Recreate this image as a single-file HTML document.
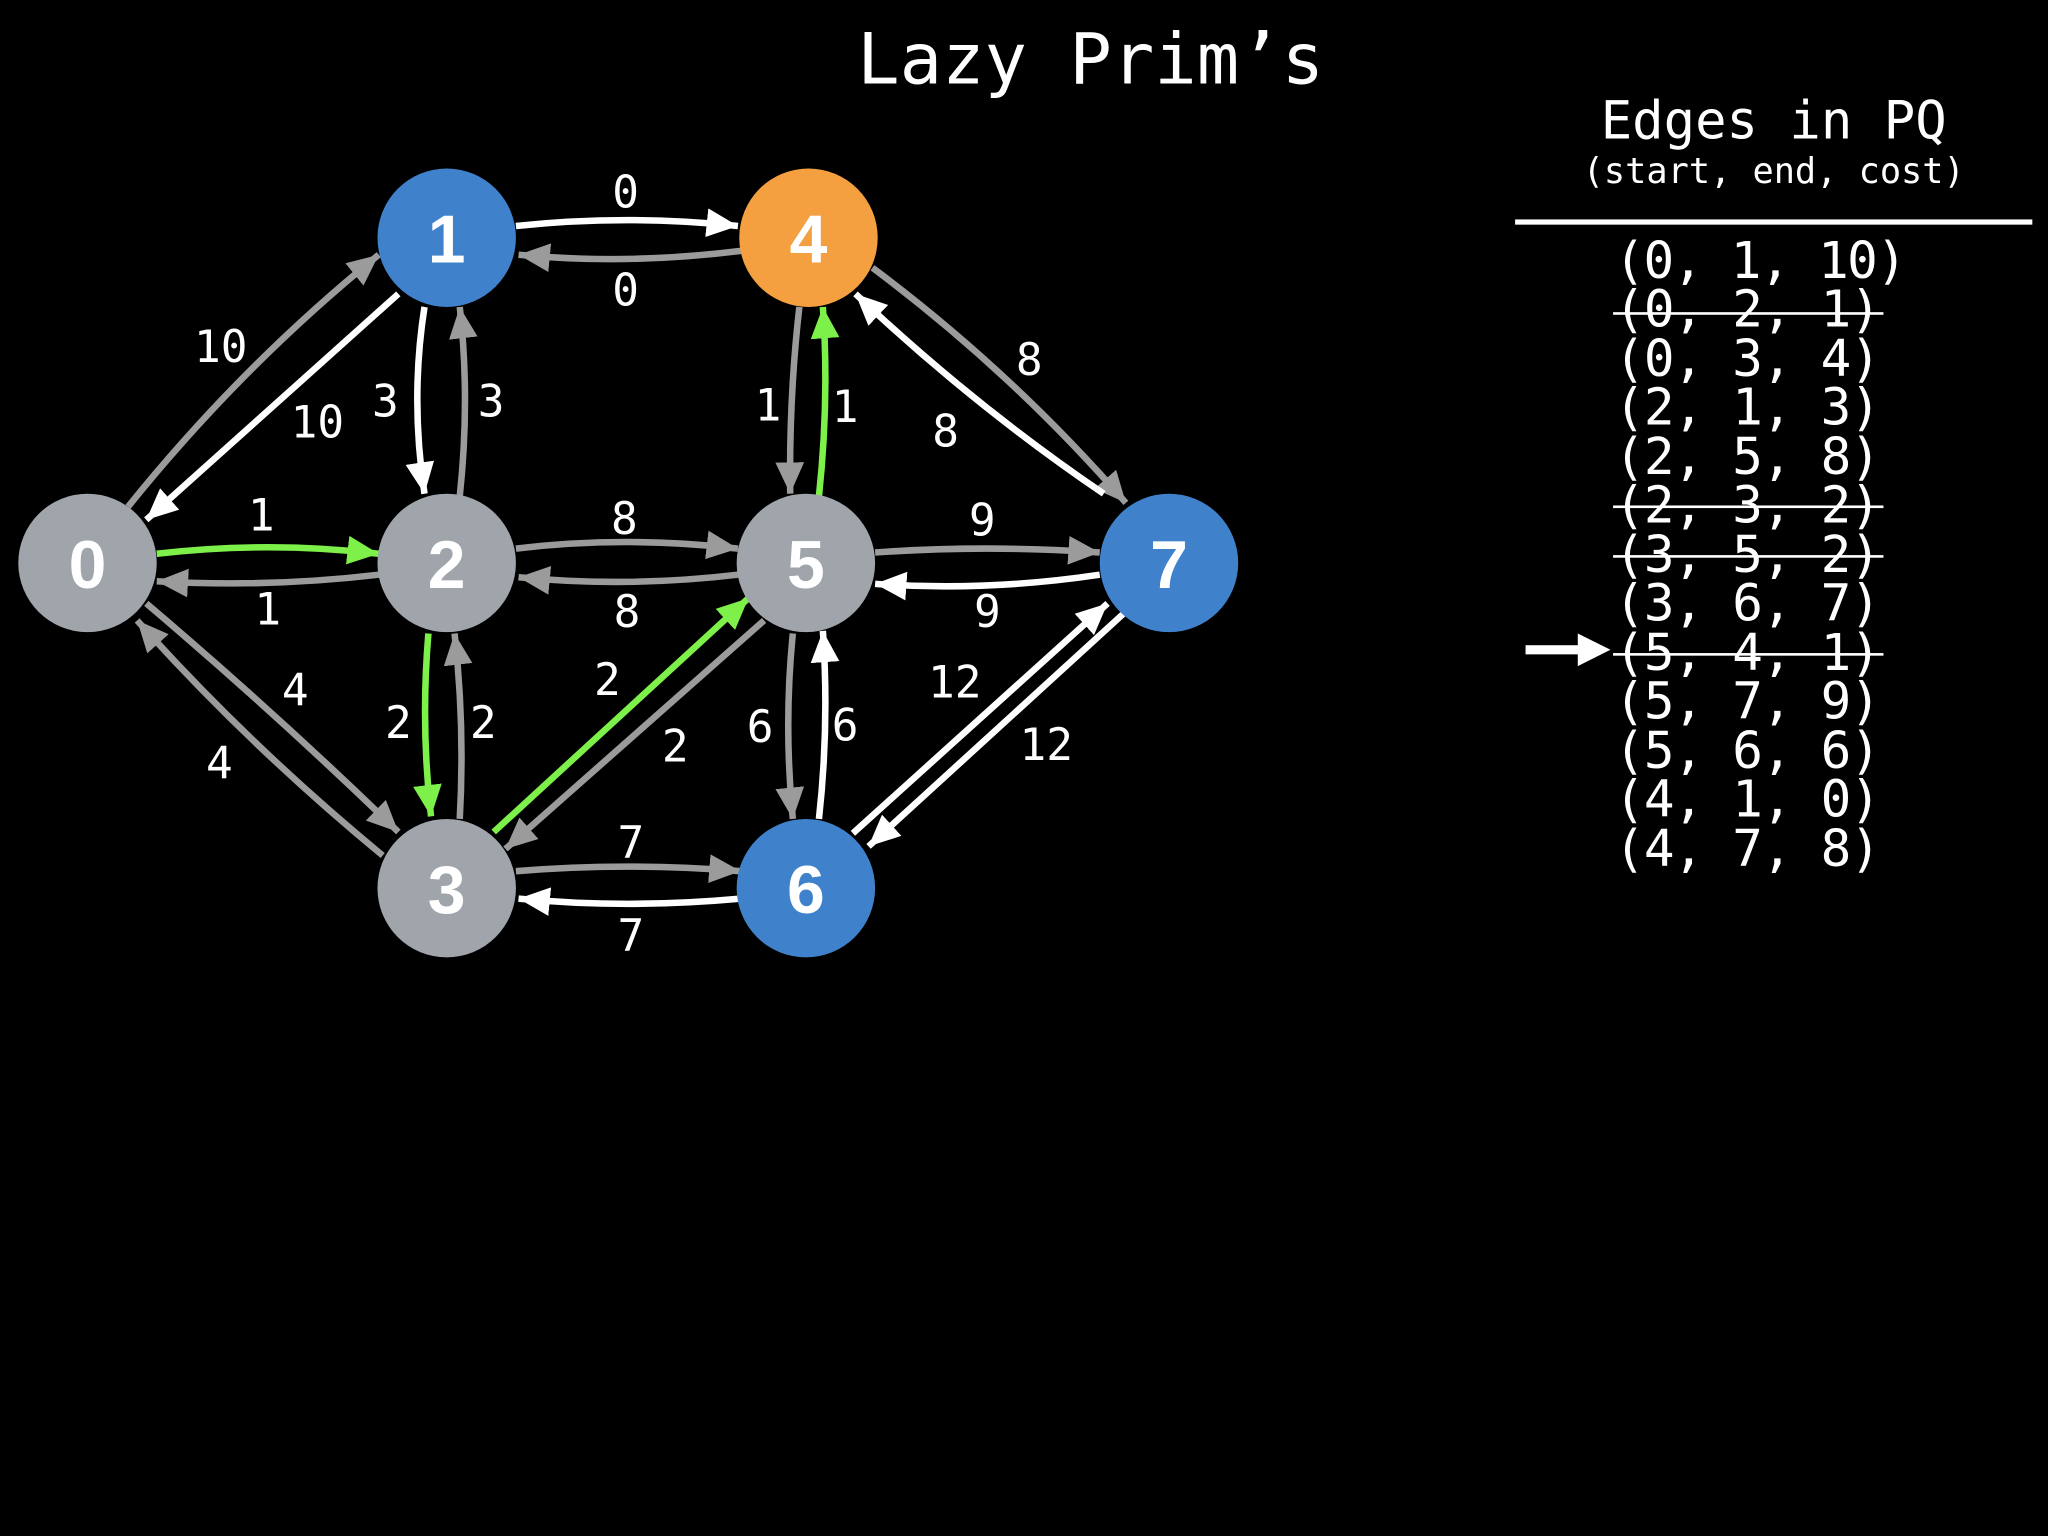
<!DOCTYPE html>
<html><head><meta charset="utf-8"><style>
html,body{margin:0;padding:0;background:#000;}
svg{display:block}
.m{font-family:"DejaVu Sans Mono","Liberation Mono",monospace;fill:#fff}
.n{font-family:"Liberation Sans",sans-serif;font-weight:bold;fill:#fff;font-size:52px;text-anchor:middle}
</style></head><body>
<svg width="2048" height="1536" viewBox="0 0 1568 1176" xmlns="http://www.w3.org/2000/svg">
<defs>
<marker id="aw" markerUnits="userSpaceOnUse" markerWidth="26" markerHeight="24" refX="24" refY="11" orient="auto"><path d="M0,0 L24,11 L0,22 z" fill="#fff"/></marker>
<marker id="ag" markerUnits="userSpaceOnUse" markerWidth="26" markerHeight="24" refX="24" refY="11" orient="auto"><path d="M0,0 L24,11 L0,22 z" fill="#9b9b9b"/></marker>
<marker id="an" markerUnits="userSpaceOnUse" markerWidth="26" markerHeight="24" refX="24" refY="11" orient="auto"><path d="M0,0 L24,11 L0,22 z" fill="#7ef04a"/></marker>
</defs>
<rect width="1568" height="1176" fill="#000"/>
<text class="m" x="835" y="64" font-size="54" text-anchor="middle">Lazy Prim’s</text>
<text class="m" x="1358" y="106" font-size="40" text-anchor="middle">Edges in PQ</text>
<text class="m" x="1358" y="140" font-size="27" text-anchor="middle">(start, end, cost)</text>
<rect x="1160" y="168" width="396" height="4" fill="#fff"/>
<g class="m" font-size="39">
<text x="1236" y="213" textLength="224">(0, 1, 10)</text>
<text x="1236" y="250" textLength="204">(0, 2, 1)</text>
<text x="1236" y="288" textLength="204">(0, 3, 4)</text>
<text x="1236" y="325" textLength="204">(2, 1, 3)</text>
<text x="1236" y="363" textLength="204">(2, 5, 8)</text>
<text x="1236" y="400" textLength="204">(2, 3, 2)</text>
<text x="1236" y="438" textLength="204">(3, 5, 2)</text>
<text x="1236" y="475" textLength="204">(3, 6, 7)</text>
<text x="1236" y="513" textLength="204">(5, 4, 1)</text>
<text x="1236" y="550" textLength="204">(5, 7, 9)</text>
<text x="1236" y="588" textLength="204">(5, 6, 6)</text>
<text x="1236" y="625" textLength="204">(4, 1, 0)</text>
<text x="1236" y="663" textLength="204">(4, 7, 8)</text>
</g>
<g fill="#fff">
<rect x="1235" y="239" width="207" height="2"/>
<rect x="1235" y="387" width="207" height="2"/>
<rect x="1235" y="425" width="207" height="2"/>
<rect x="1235" y="500" width="207" height="2"/>
<rect x="1168" y="494" width="44" height="7"/>
<path d="M1208,485 L1233,497.5 L1208,510 z"/>
</g>
<g fill="none" stroke-width="5">
<path d="M395,173 Q480,164 565,173" stroke="#fff" marker-end="url(#aw)"/>
<path d="M568,192 Q480,203 397,195" stroke="#9b9b9b" marker-end="url(#ag)"/>
<path d="M98,388 Q185,280 290,195" stroke="#9b9b9b" marker-end="url(#ag)"/>
<path d="M305,225 Q205,315 112,398" stroke="#fff" marker-end="url(#aw)"/>
<path d="M325,235 Q314,305 325,378" stroke="#fff" marker-end="url(#aw)"/>
<path d="M352,380 Q360,305 352,235" stroke="#9b9b9b" marker-end="url(#ag)"/>
<path d="M120,424 Q205,414 290,424" stroke="#7ef04a" marker-end="url(#an)"/>
<path d="M290,440 Q205,450 120,445" stroke="#9b9b9b" marker-end="url(#ag)"/>
<path d="M395,420 Q480,410 565,420" stroke="#9b9b9b" marker-end="url(#ag)"/>
<path d="M565,440 Q480,450 397,442" stroke="#9b9b9b" marker-end="url(#ag)"/>
<path d="M670,423 Q755,417 842,423" stroke="#9b9b9b" marker-end="url(#ag)"/>
<path d="M842,440 Q755,453 670,447" stroke="#fff" marker-end="url(#aw)"/>
<path d="M612,235 Q604,305 605,378" stroke="#9b9b9b" marker-end="url(#ag)"/>
<path d="M627,380 Q635,305 630,235" stroke="#7ef04a" marker-end="url(#an)"/>
<path d="M668,205 Q775,285 862,385" stroke="#9b9b9b" marker-end="url(#ag)"/>
<path d="M845,378 Q745,310 655,225" stroke="#fff" marker-end="url(#aw)"/>
<path d="M328,485 Q322,555 330,625" stroke="#7ef04a" marker-end="url(#an)"/>
<path d="M352,627 Q356,555 348,485" stroke="#9b9b9b" marker-end="url(#ag)"/>
<path d="M112,462 Q210,545 305,637" stroke="#9b9b9b" marker-end="url(#ag)"/>
<path d="M293,655 Q190,570 105,475" stroke="#9b9b9b" marker-end="url(#ag)"/>
<path d="M378,637 L573,458" stroke="#7ef04a" marker-end="url(#an)"/>
<path d="M585,475 L387,650" stroke="#9b9b9b" marker-end="url(#ag)"/>
<path d="M607,485 Q600,555 607,627" stroke="#9b9b9b" marker-end="url(#ag)"/>
<path d="M627,627 Q635,555 630,483" stroke="#fff" marker-end="url(#aw)"/>
<path d="M395,667 Q480,660 567,667" stroke="#9b9b9b" marker-end="url(#ag)"/>
<path d="M567,688 Q480,696 397,688" stroke="#fff" marker-end="url(#aw)"/>
<path d="M653,638 L848,462" stroke="#fff" marker-end="url(#aw)"/>
<path d="M860,470 L665,648" stroke="#fff" marker-end="url(#aw)"/>
</g>
<g class="m" font-size="34" text-anchor="middle">
<text x="479" y="159">0</text><text x="479" y="234">0</text>
<text x="169" y="277">10</text><text x="243" y="335">10</text>
<text x="295" y="319">3</text><text x="376" y="319">3</text>
<text x="200" y="406">1</text><text x="205" y="478">1</text>
<text x="478" y="409">8</text><text x="480" y="480">8</text>
<text x="752" y="410">9</text><text x="756" y="480">9</text>
<text x="588" y="322">1</text><text x="647" y="323">1</text>
<text x="788" y="287">8</text><text x="724" y="342">8</text>
<text x="305" y="565">2</text><text x="370" y="565">2</text>
<text x="226" y="540">4</text><text x="168" y="596">4</text>
<text x="465" y="532">2</text><text x="517" y="583">2</text>
<text x="582" y="568">6</text><text x="647" y="567">6</text>
<text x="483" y="657">7</text><text x="483" y="728">7</text>
<text x="731" y="534">12</text><text x="801" y="582">12</text>
</g>
<g>
<circle cx="67" cy="431" r="53" fill="#a0a4ab"/>
<circle cx="342" cy="182" r="53" fill="#3f82cb"/>
<circle cx="342" cy="431" r="53" fill="#a0a4ab"/>
<circle cx="342" cy="680" r="53" fill="#a0a4ab"/>
<circle cx="619" cy="182" r="53" fill="#f4a040"/>
<circle cx="617" cy="431" r="53" fill="#a0a4ab"/>
<circle cx="617" cy="680" r="53" fill="#3f82cb"/>
<circle cx="895" cy="431" r="53" fill="#3f82cb"/>
</g>
<g class="n">
<text x="67" y="450">0</text><text x="342" y="201">1</text><text x="342" y="450">2</text>
<text x="342" y="699">3</text><text x="619" y="201">4</text><text x="617" y="450">5</text>
<text x="617" y="699">6</text><text x="895" y="450">7</text>
</g>
</svg>
</body></html>
